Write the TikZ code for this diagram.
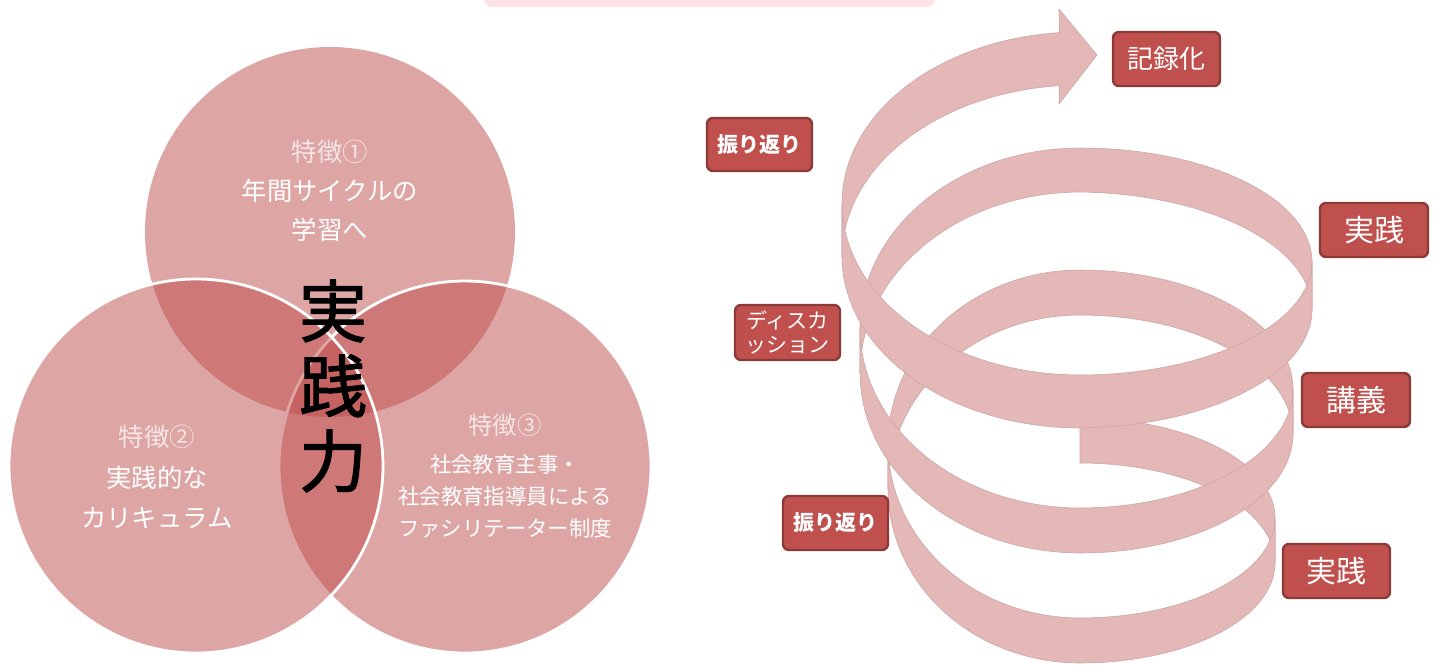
\documentclass[tikz,border=0pt]{standalone}
\usepackage{fontspec}
\newfontfamily\jp{Noto Sans CJK JP}
\newfontfamily\jpm{Noto Sans CJK JP}[FakeBold=1.6]
\definecolor{rib}{HTML}{E5B8B8}
\definecolor{ribline}{HTML}{CDA6A6}
\definecolor{venn}{HTML}{BF4D4D}
\definecolor{boxfill}{HTML}{C0504D}
\definecolor{boxline}{HTML}{8C3A38}
\definecolor{topbar}{HTML}{FFE3E4}
\tikzset{
  ps/.style={samples=40, variable=\t},
  ribbon/.style={fill=rib, draw=ribline, line width=0.3pt, line join=round},
  vcirc/.style={fill=venn, fill opacity=0.5},
  vborder/.style={draw=white, line width=1.4pt},
  vtext/.style={text=white, align=center, inner sep=0pt},
  lbl/.style={draw=boxline, fill=boxfill, line width=1.2pt, rounded corners=3pt, text=white, inner sep=0pt, align=center},
  declare function={xx(\t,\R)=1080+\R*cos(\t); yy(\t,\m,\h)=\m+\h*sin(\t);}
}
\begin{document}
\begin{tikzpicture}[x=0.5pt,y=-0.5pt]
\useasboundingbox (0,0) rectangle (1435,664);
\fill[white] (0,0) rectangle (1435,664);
% top bar
\fill[topbar, rounded corners=4pt] (484,-20) rectangle (935,7);

% Venn circles
\fill[vcirc] (330,232) circle (185);
\fill[vcirc] (465,467) circle (186);
\draw[vborder] (465,467) circle (186);
\fill[vcirc] (196,466) circle (187);
\draw[vborder] (196,466) circle (187);

\node[vtext, font=\jp\fontsize{12.7}{19.5}\selectfont] (f1) at (330,191)
  {\textcolor{white!85!venn}{特徴①}\\年間サイクルの\\学習へ};
\node[vtext, font=\jp\fontsize{12.7}{20.2}\selectfont] (f2) at (157,477)
  {\textcolor{white!85!venn}{特徴②}\\実践的な\\カリキュラム};
\node[vtext, font=\jp\fontsize{12.2}{16}\selectfont, text=white!85!venn] (f3h) at (505,425) {特徴③};
\node[vtext, font=\jp\fontsize{10.7}{16}\selectfont] (f3) at (505,496)
  {社会教育主事・\\社会教育指導員による\\ファシリテーター制度};
\node[align=center, inner sep=0pt, text=black, font=\jpm\fontsize{34}{37.5}\selectfont] (jsr) at (333,386) {実\\践\\力};

% spiral ribbon: back pieces
\path[ribbon] plot[ps,domain=-90:0] ({xx(\t,195)},{yy(\t,518,100)})
  -- plot[ps,domain=0:-90] ({xx(\t,195)},{yy(\t,518,100)+45}) -- cycle;
\path[ribbon] plot[ps,domain=180:270] ({xx(\t,192)},{yy(\t,444,174)})
  -- plot[ps,domain=270:360] ({xx(\t,213)},{yy(\t,389,119)})
  -- plot[ps,domain=360:270] ({xx(\t,213)},{yy(\t,389,119)+45})
  -- plot[ps,domain=270:180] ({xx(\t,192)},{yy(\t,444,174)+45}) -- cycle;
\path[ribbon] plot[ps,domain=540:630] ({xx(\t,220)},{yy(\t,328,180)})
  -- plot[ps,domain=630:720] ({xx(\t,232)},{yy(\t,261.5,113.5)})
  -- plot[ps,domain=720:630] ({xx(\t,232)},{yy(\t,261.5,113.5)+44+9*(\t-630)/180})
  -- plot[ps,domain=630:540] ({xx(\t,220)},{yy(\t,328,180)+45-(\t-450)/180}) -- cycle;
\path[ribbon] plot[ps,domain=900:985] ({xx(\t,238)},{yy(\t,203.5,171.5)})
  -- (1059,9) -- (1097,55) -- (1059,104)
  -- plot[ps,domain=985:900] ({xx(\t,238)},{yy(\t,203.5,171.5)+53}) -- cycle;
% front pieces
\path[ribbon] plot[ps,domain=0:90] ({xx(\t,195)},{yy(\t,518,100)})
  -- plot[ps,domain=90:180] ({xx(\t,192)},{yy(\t,444,174)})
  -- plot[ps,domain=180:90] ({xx(\t,192)},{yy(\t,444,174)+45})
  -- plot[ps,domain=90:0] ({xx(\t,195)},{yy(\t,518,100)+45}) -- cycle;
\path[ribbon] plot[ps,domain=360:450] ({xx(\t,213)},{yy(\t,389,119)})
  -- plot[ps,domain=450:540] ({xx(\t,220)},{yy(\t,328,180)})
  -- plot[ps,domain=540:450] ({xx(\t,220)},{yy(\t,328,180)+45-(\t-450)/180})
  -- plot[ps,domain=450:360] ({xx(\t,213)},{yy(\t,389,119)+45}) -- cycle;
\path[ribbon] plot[ps,domain=720:810] ({xx(\t,232)},{yy(\t,261.5,113.5)})
  -- plot[ps,domain=810:900] ({xx(\t,238)},{yy(\t,203.5,171.5)})
  -- plot[ps,domain=900:810] ({xx(\t,238)},{yy(\t,203.5,171.5)+53})
  -- plot[ps,domain=810:720] ({xx(\t,232)},{yy(\t,261.5,113.5)+44+9*(\t-630)/180}) -- cycle;

% labels
\node[lbl, minimum width=53.5pt, minimum height=27pt, font=\jp\fontsize{13}{15}\selectfont] (kiroku) at (1166.5,59) {記録化};
\node[lbl, minimum width=54pt, minimum height=27pt, font=\jp\fontsize{15}{17}\selectfont] (jissenA) at (1374,230) {実践};
\node[lbl, minimum width=54pt, minimum height=27pt, font=\jp\fontsize{15}{17}\selectfont] (kougi) at (1356,400) {講義};
\node[lbl, minimum width=53.5pt, minimum height=27pt, font=\jp\fontsize{15}{17}\selectfont] (jissenB) at (1336.5,571) {実践};
\node[lbl, minimum width=52.5pt, minimum height=26.5pt, font=\jp\bfseries\fontsize{10.5}{12}\selectfont] (furiA) at (759.5,144.5) {振り返り};
\node[lbl, minimum width=52.5pt, minimum height=27.5pt, font=\jp\fontsize{10.5}{12}\selectfont] (disc) at (787.5,332.5) {ディスカ\\ッション};
\node[lbl, minimum width=52.5pt, minimum height=27pt, font=\jp\bfseries\fontsize{10.5}{12}\selectfont] (furiB) at (835.5,523) {振り返り};
\end{tikzpicture}
\end{document}
